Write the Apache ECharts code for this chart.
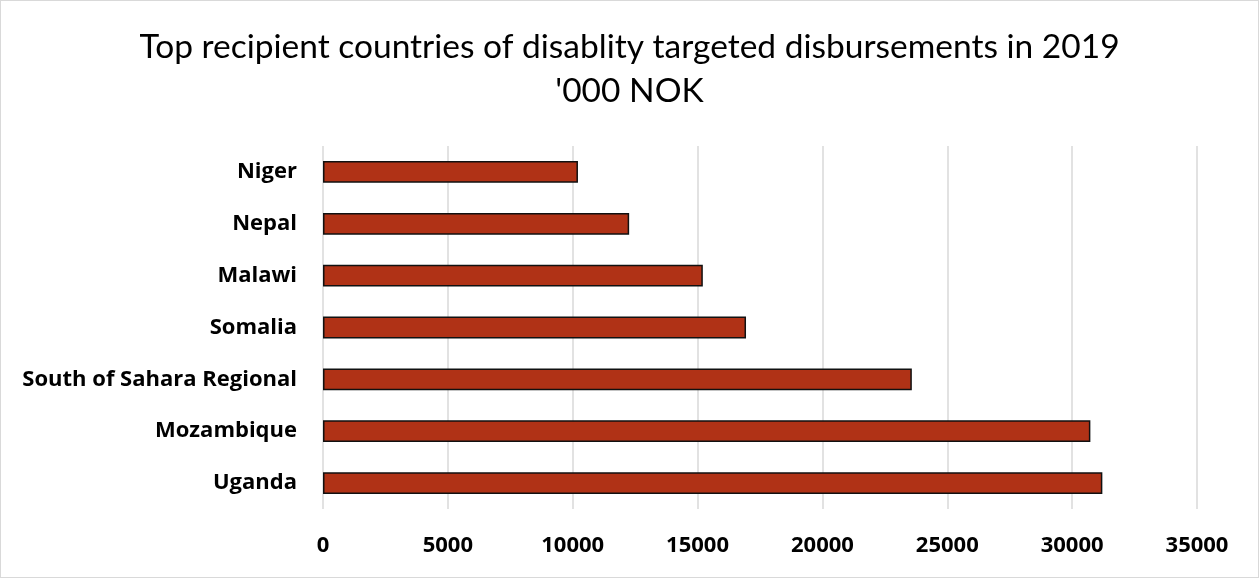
<!DOCTYPE html>
<html>
<head>
<meta charset="utf-8">
<script src="https://cdn.jsdelivr.net/npm/echarts@6/dist/echarts.min.js"></script>
<style>
  html, body { margin: 0; padding: 0; background: #fff; }
  #chart { width: 1259px; height: 578px; box-sizing: border-box; border: 1px solid #d9d9d9; }
</style>
</head>
<body>
<div id="chart"></div>
<script>
// Recipients, listed top to bottom
const countries = ['Niger', 'Nepal', 'Malawi', 'Somalia', 'South of Sahara Regional', 'Mozambique', 'Uganda'];
// Disbursements in '000 NOK
const disbursements = [10210, 12260, 15210, 16940, 23580, 30730, 31210];
const xTicks = { min: 0, max: 35000, interval: 5000 };

const chart = echarts.init(document.getElementById('chart'), null, { renderer: 'canvas' });
chart.setOption({
  animation: false,
  backgroundColor: '#ffffff',
  title: {
    text: "Top recipient countries of disablity targeted disbursements in 2019\n'000 NOK",
    left: 'center',
    top: 19,
    textStyle: {
      fontFamily: 'Lato',
      fontWeight: 'normal',
      fontSize: 33.5,
      lineHeight: 44,
      color: '#000'
    }
  },
  grid: { left: 322, right: 61, top: 145, bottom: 68, containLabel: false },
  xAxis: {
    type: 'value',
    min: xTicks.min,
    max: xTicks.max,
    interval: xTicks.interval,
    axisLine: { show: false },
    axisTick: { show: false },
    axisLabel: {
      margin: 26,
      formatter: (v) => String(v),
      fontFamily: 'Open Sans',
      fontWeight: 'bold',
      fontSize: 22,
      color: '#000'
    },
    splitLine: { show: true, lineStyle: { color: '#d9d9d9', width: 1.5 } }
  },
  yAxis: {
    type: 'category',
    inverse: true,
    data: countries,
    axisLine: { show: false },
    axisTick: { show: false },
    axisLabel: {
      margin: 26,
      fontFamily: 'Open Sans',
      fontWeight: 'bold',
      fontSize: 22,
      color: '#000'
    }
  },
  series: [{
    type: 'bar',
    data: disbursements,
    barCategoryGap: '58%',
    itemStyle: { color: '#b03216', borderColor: '#111', borderWidth: 1.5 }
  }]
});
</script>
</body>
</html>
